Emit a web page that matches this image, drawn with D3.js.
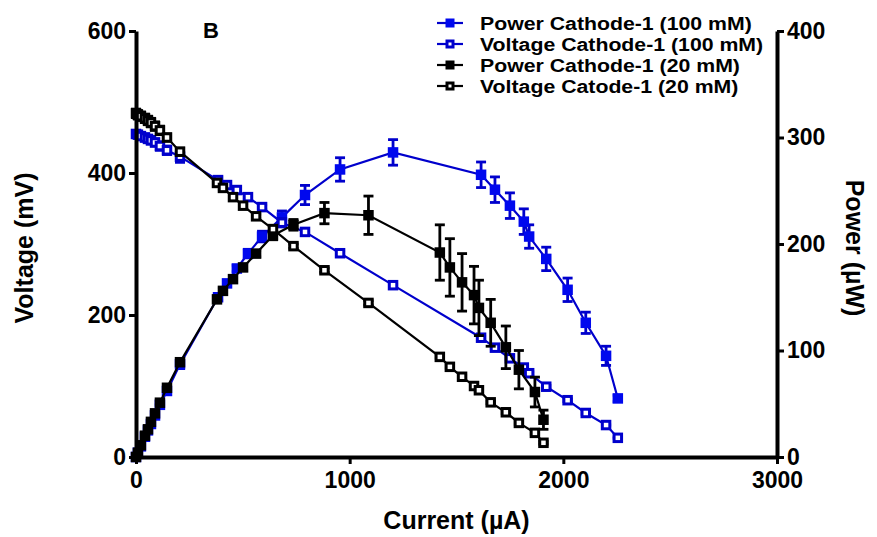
<!DOCTYPE html>
<html>
<head>
<meta charset="utf-8">
<script src="https://cdn.jsdelivr.net/npm/d3@7"></script>
<style>
  body { margin: 0; background: #fff; }
  svg { font-family: "Liberation Sans", Arial, sans-serif; font-weight: bold; }
</style>
</head>
<body>
<svg id="chart" width="877" height="537"></svg>
<script>
// ---- datos ----
const current100 = [0, 9, 23, 42, 56, 70, 89, 112, 145, 206, 384, 426, 472, 524, 590, 683, 791, 955, 1203, 1615, 1680, 1750, 1815, 1840, 1920, 2020, 2105, 2200, 2255];
const voltage100 = [455, 454, 452, 450, 448, 446, 443, 438, 432, 423, 390, 383, 376, 366, 352, 330, 317, 287, 242, 168, 154, 139, 126, 118, 99, 80, 62, 45, 27];
const voltageErr100 = [3, 3, 4, 5, 5, 5, 5, 6, 6, 8, 4, 3, 3, 3, 3, 6, 4, 3, 2, 2, 2, 2, 2, 2, 2, 2, 2, 1, 1];
const power100 = [0, 4, 10, 19, 25, 31, 39, 49, 62, 87, 150, 163, 177, 191, 207, 225, 246, 270, 286, 265, 251, 236, 221, 207, 186, 157, 126, 95, 55];
const powerErr100 = [0, 0, 0, 0, 0, 0, 0, 1, 2, 4, 3, 3, 3, 4, 5, 6, 9, 11, 12, 12, 12, 12, 12, 11, 11, 11, 10, 9, 3];

const current20 = [0, 9, 23, 42, 56, 70, 89, 112, 145, 206, 379, 407, 454, 501, 562, 641, 737, 882, 1088, 1422, 1469, 1526, 1582, 1605, 1660, 1731, 1792, 1867, 1907];
const voltage20 = [484, 482, 480, 477, 474, 471, 466, 460, 450, 430, 386, 379, 366, 354, 339, 321, 297, 263, 217, 141, 127, 113, 100, 94, 77, 63, 48, 34, 20];
const voltageErr20 = [6, 6, 6, 6, 6, 6, 6, 6, 5, 5, 3, 3, 3, 3, 3, 3, 3, 3, 3, 2, 2, 2, 2, 2, 2, 2, 2, 2, 2];
const power20 = [0, 4, 11, 20, 26, 33, 41, 51, 65, 89, 148, 156, 167, 178, 191, 208, 218, 229, 227, 192, 178, 164, 152, 140, 126, 103, 82, 61, 35];
const powerErr20 = [0, 0, 1, 1, 1, 1, 1, 2, 2, 3, 3, 3, 3, 3, 3, 4, 5, 10, 18, 26, 27, 27, 27, 26, 22, 20, 18, 14, 9];

const xTicks = [0, 1000, 2000, 3000];
const voltTicks = [0, 200, 400, 600];
const powerTicks = [0, 100, 200, 300, 400];

const legendLabels = [
  "Power Cathode-1 (100 mM)",
  "Voltage Cathode-1 (100 mM)",
  "Power Cathode-1 (20 mM)",
  "Voltage Catode-1 (20 mM)"
];

// ---- geometría ----
const W = 877, H = 537;
const margin = { top: 31, right: 100, bottom: 80, left: 136 };

const BLUE = "#0000cc";
const BLUE_FILL = "#0008ee";

const svg = d3.select("#chart");

const x = d3.scaleLinear().domain([0, 3000]).range([margin.left, W - margin.right]);
const yV = d3.scaleLinear().domain([0, 600]).range([H - margin.bottom, margin.top]);
const yP = d3.scaleLinear().domain([0, 400]).range([H - margin.bottom, margin.top]);

// ---- series ----
const series = [
  { x: current100, y: power100, err: powerErr100, scale: yP, color: BLUE, fill: BLUE_FILL, open: false },
  { x: current100, y: voltage100, err: voltageErr100, scale: yV, color: BLUE, fill: BLUE_FILL, open: true },
  { x: current20, y: power20, err: powerErr20, scale: yP, color: "#000", fill: "#000", open: false },
  { x: current20, y: voltage20, err: voltageErr20, scale: yV, color: "#000", fill: "#000", open: true }
];

const plot = svg.append("g").attr("class", "series");

function marcador(sel, s, size) {
  if (s.open) {
    sel.attr("x", -size / 2 + 1.5).attr("y", -size / 2 + 1.5)
      .attr("width", size - 3).attr("height", size - 3)
      .attr("fill", "#fff").attr("stroke", s.color).attr("stroke-width", 3);
  } else {
    sel.attr("x", -size / 2).attr("y", -size / 2)
      .attr("width", size).attr("height", size)
      .attr("fill", s.fill).attr("stroke", "none");
  }
}

series.forEach(s => {
  const pts = s.x.map((cx, i) => ({ cx, v: s.y[i], e: s.err[i] }));
  const g = plot.append("g");

  g.append("path")
    .datum(pts)
    .attr("fill", "none")
    .attr("stroke", s.color)
    .attr("stroke-width", 2.2)
    .attr("d", d3.line().x(d => x(d.cx)).y(d => s.scale(d.v)));

  // barras de error
  const eb = g.selectAll("g.err").data(pts.filter(d => d.e > 0)).enter().append("g")
    .attr("stroke", s.color).attr("stroke-width", 2.8);
  eb.append("line")
    .attr("x1", d => x(d.cx)).attr("x2", d => x(d.cx))
    .attr("y1", d => s.scale(d.v - d.e)).attr("y2", d => s.scale(d.v + d.e));
  [1, -1].forEach(sg => {
    eb.append("line")
      .attr("x1", d => x(d.cx) - 5).attr("x2", d => x(d.cx) + 5)
      .attr("y1", d => s.scale(d.v + sg * d.e)).attr("y2", d => s.scale(d.v + sg * d.e));
  });

  g.selectAll("rect").data(pts).enter().append("rect")
    .attr("transform", d => `translate(${x(d.cx)},${s.scale(d.v)})`)
    .call(sel => marcador(sel, s, 10.5));
});

// ---- ejes ----
function estiloEje(g) {
  g.select(".domain").attr("stroke-width", 4).attr("stroke", "#000");
  g.selectAll(".tick line").attr("stroke-width", 3).attr("stroke", "#000");
  g.selectAll(".tick text").attr("font-size", 23).attr("font-weight", "bold")
    .attr("font-family", "Liberation Sans, Arial, sans-serif").attr("fill", "#000");
}

svg.append("g")
  .attr("transform", `translate(0,${H - margin.bottom})`)
  .call(d3.axisBottom(x).tickValues(xTicks).tickFormat(d3.format("d")).tickSize(7).tickSizeOuter(0).tickPadding(8))
  .call(estiloEje);

svg.append("g")
  .attr("transform", `translate(${margin.left},0)`)
  .call(d3.axisLeft(yV).tickValues(voltTicks).tickSize(7).tickSizeOuter(0).tickPadding(3))
  .call(estiloEje);

svg.append("g")
  .attr("transform", `translate(${W - margin.right},0)`)
  .call(d3.axisRight(yP).tickValues(powerTicks).tickSize(7).tickSizeOuter(0).tickPadding(3))
  .call(estiloEje);

// títulos
svg.append("text")
  .attr("x", (margin.left + W - margin.right) / 2).attr("y", 529)
  .attr("text-anchor", "middle").attr("font-size", 25)
  .text("Current (µA)");

svg.append("text")
  .attr("transform", `translate(33,${(margin.top + H - margin.bottom) / 2 + 4}) rotate(-90)`)
  .attr("text-anchor", "middle").attr("font-size", 25)
  .text("Voltage (mV)");

svg.append("text")
  .attr("transform", `translate(846,${(margin.top + H - margin.bottom) / 2 + 4}) rotate(90)`)
  .attr("text-anchor", "middle").attr("font-size", 25)
  .text("Power (µW)");

svg.append("text")
  .attr("x", 203).attr("y", 38).attr("font-size", 22)
  .text("B");

// ---- leyenda ----
const ley = svg.append("g").attr("transform", "translate(437,23)");
legendLabels.forEach((lab, i) => {
  const s = series[i];
  const gy = ley.append("g").attr("transform", `translate(0,${i * 21})`);
  gy.append("line").attr("x1", 0).attr("x2", 26).attr("y1", 0).attr("y2", 0)
    .attr("stroke", s.color).attr("stroke-width", 2.2);
  gy.append("rect").attr("transform", "translate(13,0)").call(sel => marcador(sel, s, 9));
  gy.append("text").attr("transform", "translate(43,7) scale(1.12,1)")
    .attr("font-size", 19).text(lab);
});
</script>
</body>
</html>
